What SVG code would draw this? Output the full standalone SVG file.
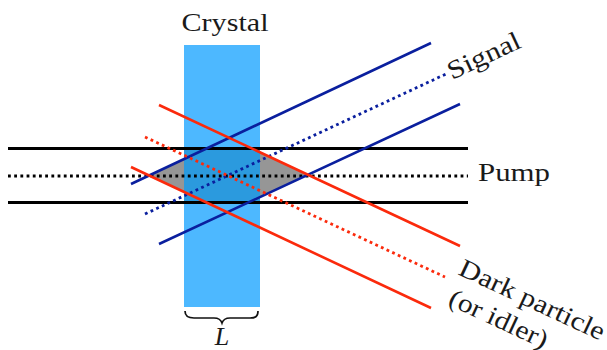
<svg xmlns="http://www.w3.org/2000/svg" width="607" height="350" viewBox="0 0 607 350">
<style>
.t{font-family:"Liberation Serif",serif;font-size:26px;fill:#1a1a1a}
.k,.b,.r{fill:none}
.k{stroke:#000;stroke-width:3}
.b{stroke:#0a1f9e;stroke-width:2.6}
.r{stroke:#fb2a0c;stroke-width:2.6}
.d{stroke-width:2.8;stroke-dasharray:2.8 3.4}
</style>
<g id="crystal">
<rect x="184" y="45" width="76" height="262" fill="#4db8ff"/>
<rect x="184" y="149" width="76" height="53" fill="#2b9ade"/>
<path d="M149 176L184 159V192Z M260 152L308 175L260 197Z" fill="#969696"/>
<text class="t" x="225" y="31" text-anchor="middle" textLength="87" lengthAdjust="spacingAndGlyphs">Crystal</text>
</g>
<g id="connectors">
<path class="k" d="M8 148.5H468M8 202.5H468"/>
<path class="k d" d="M8 176H468"/>
<path class="b" d="M131 184L431 43M159 244L460 104"/>
<path class="b d" d="M145 214L446 74"/>
<path class="r" d="M159 105L460 246M131 167L431 308"/>
<path class="r d" d="M145 137L445 277"/>
</g>
<g id="brace">
<path d="M185 311C185 317 189 318 194 318H214C219 318 221 320 222 323C223 320 225 318 230 318H250C255 318 258 317 258 311" fill="none" stroke="#111" stroke-width="1.7"/>
<text class="t" x="222" y="345" text-anchor="middle" font-style="italic">L</text>
</g>
<g id="signal-label"><text class="t" transform="translate(452 80) rotate(-25)" textLength="78" lengthAdjust="spacingAndGlyphs">Signal</text></g>
<g id="pump-label"><text class="t" x="478" y="181" textLength="72" lengthAdjust="spacingAndGlyphs">Pump</text></g>
<g id="dark-label">
<text class="t" transform="translate(457 274) rotate(25)" textLength="158" lengthAdjust="spacingAndGlyphs">Dark particle</text>
<text class="t" transform="translate(447 304) rotate(25)" textLength="106" lengthAdjust="spacingAndGlyphs">(or idler)</text>
</g>
</svg>
